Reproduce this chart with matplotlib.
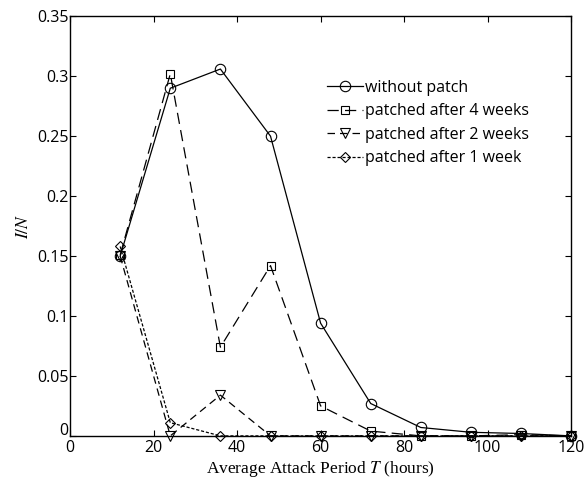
import numpy as np
import matplotlib
matplotlib.use("Agg")
import matplotlib.pyplot as plt
import matplotlib.transforms as mtransforms

T = [12, 24, 36, 48, 60, 72, 84, 96, 108, 120]
no_patch = [0.150, 0.290, 0.306, 0.250, 0.094, 0.027, 0.007, 0.003, 0.002, 0.000]
week4 = [0.151, 0.302, 0.074, 0.142, 0.025, 0.004, 0.000, 0.000, 0.001, 0.000]
week2 = [0.150, 0.000, 0.034, 0.000, 0.000, 0.000, 0.000, 0.000, 0.000, 0.000]
week1 = [0.158, 0.011, 0.000, 0.000, 0.000, 0.000, 0.000, 0.000, 0.000, 0.000]
labels = ["without patch", "patched after 4 weeks", "patched after 2 weeks", "patched after 1 week"]

plt.rcParams["font.family"] = ["Open Sans", "DejaVu Sans"]
plt.rcParams["mathtext.fontset"] = "stix"

fig = plt.figure(figsize=(5.84, 4.79), dpi=100)
ax = fig.add_axes([0.12, 0.09, 0.858, 0.876])

lw = 0.9
ax.plot(T, no_patch, "k-", marker="o", ms=7.5, mfc="none", lw=lw, mew=0.8, label=labels[0], clip_on=False)
ax.plot(T, week4, "k", ls=(0, (9, 5)), marker="s", ms=5.5, mfc="none", lw=lw, mew=0.8, label=labels[1], clip_on=False)
ax.plot(T, week2, "k", ls=(0, (6, 4)), marker="v", ms=7.5, mfc="none", lw=lw, mew=0.8, label=labels[2], clip_on=False)
ax.plot(T, week1, "k", ls=(0, (2.5, 1.5)), marker="D", ms=5, mfc="none", lw=lw, mew=0.8, label=labels[3], clip_on=False)

ax.set_xlim(0, 120)
ax.set_ylim(0, 0.35)
ax.set_xticks(np.arange(0, 121, 20))
ax.set_yticks(np.arange(0, 0.351, 0.05))
ax.set_yticklabels(["0", "0.05", "0.1", "0.15", "0.2", "0.25", "0.3", "0.35"])
ax.tick_params(direction="in", top=True, right=True, labelsize=11.5, length=4, width=0.8)
ax.tick_params(axis="x", pad=3)
ax.tick_params(axis="y", pad=1)
for s in ax.spines.values():
    s.set_linewidth(1.0)

# the y "0" sits a little above the corner, like in the original
zero = ax.get_yticklabels()[0]
zero.set_transform(zero.get_transform() + mtransforms.ScaledTranslation(0, 5 / 72, fig.dpi_scale_trans))

ax.set_xlabel("Average Attack Period $T$ (hours)", family="Liberation Serif", fontsize=12.5, labelpad=2)
ax.set_ylabel("$I/N$", fontsize=12.5, labelpad=4)

ax.legend(loc="upper left", bbox_to_anchor=(0.513, 0.849), frameon=False, fontsize=11.5,
          handlelength=2.25, handletextpad=0.15, labelspacing=0.47, borderaxespad=0, borderpad=0)

fig.savefig("out.png", dpi=100)
